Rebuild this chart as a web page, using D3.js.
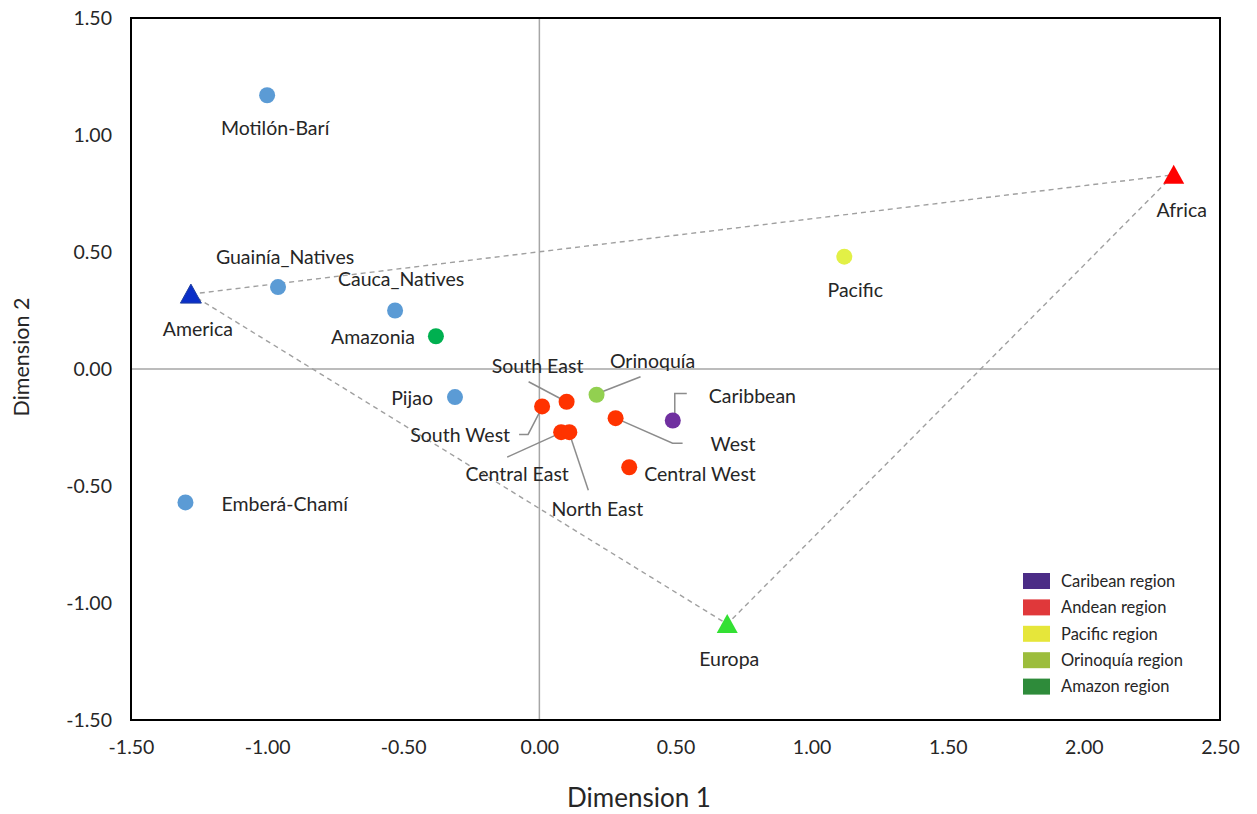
<!DOCTYPE html>
<html>
<head>
<meta charset="utf-8">
<script src="https://cdn.jsdelivr.net/npm/d3@7"></script>
<style>
  html, body { margin: 0; padding: 0; background: #ffffff; }
  svg { display: block; }
  text { font-family: Lato, "Open Sans", "Noto Sans", sans-serif; fill: #262626; }
</style>
</head>
<body>
<svg id="chart" width="1257" height="814"></svg>
<script>
// ---------------- DATA ----------------
const pointNames = ["Motilón-Barí", "Guainía_Natives", "Cauca_Natives", "Amazonia", "Pijao", "Emberá-Chamí",
  "South East", "South West", "Central East", "North East", "West", "Central West",
  "Orinoquía", "Caribbean", "Pacific"];
const dim1 = [-1.00, -0.96, -0.53, -0.38, -0.31, -1.30,
  0.10, 0.01, 0.08, 0.11, 0.28, 0.33,
  0.21, 0.49, 1.12];
const dim2 = [1.17, 0.35, 0.25, 0.14, -0.12, -0.57,
  -0.14, -0.16, -0.27, -0.27, -0.21, -0.42,
  -0.11, -0.22, 0.48];
const pointGroup = ["Native", "Native", "Native", "Amazon", "Native", "Native",
  "Andean", "Andean", "Andean", "Andean", "Andean", "Andean",
  "Orinoquia", "Caribean", "Pacific"];

const refNames = ["America", "Africa", "Europa"];
const refDim1 = [-1.28, 2.33, 0.69];
const refDim2 = [0.32, 0.83, -1.09];

const legendLabels = ["Caribean region", "Andean region", "Pacific region", "Orinoquía region", "Amazon region"];
const xTicks = [-1.5, -1.0, -0.5, 0.0, 0.5, 1.0, 1.5, 2.0, 2.5];
const yTicks = [-1.5, -1.0, -0.5, 0.0, 0.5, 1.0, 1.5];

// ---------------- STYLE / LAYOUT ----------------
const groupColor = {
  Native: "#5B9BD5", Amazon: "#00B050", Andean: "#FF3300",
  Orinoquia: "#92D050", Caribean: "#7030A0", Pacific: "#E2F046"
};
const refColor = ["#0A2FC8", "#FF0000", "#33E033"];
const legendColors = ["#4B2C86", "#E0383A", "#E6E63A", "#9CBD3C", "#2E8B3A"];

// label offsets [dx, dy, anchor] and optional leader polyline (relative to point)
const labelLayout = {
  "Motilón-Barí": [8, 33, "middle"],
  "Guainía_Natives": [7, -30, "middle"],
  "Cauca_Natives": [6, -31, "middle"],
  "Amazonia": [-21, 1, "end"],
  "Pijao": [-22, 1, "end"],
  "Emberá-Chamí": [36, 2, "start"],
  "South East": [-29, -36, "middle", [[-38, -20], [-4, -2]]],
  "South West": [-32, 29, "end", [[-23, 28], [-14, 28], [0, 1]]],
  "Central East": [-44, 42, "middle", [[-54, 25], [-1, 1]]],
  "North East": [28, 77, "middle", [[19, 58], [0, 1]]],
  "West": [95, 26, "start", [[0, 0], [57, 25], [67, 25]]],
  "Central West": [15, 7, "start"],
  "Orinoquía": [56, -34, "middle", [[44, -18], [3, -2]]],
  "Caribbean": [36, -24, "start", [[2, -3], [2, -27], [14, -27]]],
  "Pacific": [11, 33, "middle"],
  "America": [7, 35, "middle"],
  "Africa": [8, 35, "middle"],
  "Europa": [2, 35, "middle"]
};

const plot = { left: 131, right: 1220, top: 18, bottom: 720 };
const labelSize = 19.5, tickSize = 19.5;

const svg = d3.select("#chart");
const x = d3.scaleLinear().domain([-1.5, 2.5]).range([plot.left, plot.right]);
const y = d3.scaleLinear().domain([-1.5, 1.5]).range([plot.bottom, plot.top]);
const fmt = v => d3.format(".2f")(v).replace("−", "-");

// zero lines
svg.append("line").attr("x1", x(0)).attr("x2", x(0)).attr("y1", plot.top).attr("y2", plot.bottom)
  .attr("stroke", "#A6A6A6").attr("stroke-width", 1.5);
svg.append("line").attr("x1", plot.left).attr("x2", plot.right).attr("y1", y(0)).attr("y2", y(0))
  .attr("stroke", "#A6A6A6").attr("stroke-width", 1.5);

// axes (labels only)
const xAxis = d3.axisBottom(x).tickValues(xTicks).tickFormat(fmt).tickSize(0).tickPadding(20);
const gx = svg.append("g").attr("transform", `translate(0,${plot.bottom})`).call(xAxis);
gx.select(".domain").remove();
gx.selectAll("text").attr("font-size", tickSize).attr("fill", "#404040").style("font-family", "Lato, 'Open Sans', sans-serif");

const yAxis = d3.axisLeft(y).tickValues(yTicks).tickFormat(fmt).tickSize(0).tickPadding(19);
const gy = svg.append("g").attr("transform", `translate(${plot.left},0)`).call(yAxis);
gy.select(".domain").remove();
gy.selectAll("text").attr("font-size", tickSize).attr("fill", "#404040").style("font-family", "Lato, 'Open Sans', sans-serif");

// frame
svg.append("rect").attr("x", plot.left).attr("y", plot.top)
  .attr("width", plot.right - plot.left).attr("height", plot.bottom - plot.top)
  .attr("fill", "none").attr("stroke", "#000").attr("stroke-width", 2);

// dashed triangle between reference populations
const tri = [0, 1, 2, 0].map(i => [x(refDim1[i]), y(refDim2[i])]);
svg.append("path").attr("d", d3.line()(tri)).attr("fill", "none")
  .attr("stroke", "#A0A0A0").attr("stroke-width", 1.4).attr("stroke-dasharray", "5,4");

// leader lines
const leaderG = svg.append("g");
pointNames.forEach((n, i) => {
  const L = labelLayout[n];
  if (L && L[3]) {
    const px = x(dim1[i]), py = y(dim2[i]);
    leaderG.append("path").attr("d", d3.line()(L[3].map(p => [px + p[0], py + p[1]])))
      .attr("fill", "none").attr("stroke", "#8C8C8C").attr("stroke-width", 1.5);
  }
});

// points
svg.append("g").selectAll("circle").data(pointNames).join("circle")
  .attr("cx", (d, i) => x(dim1[i])).attr("cy", (d, i) => y(dim2[i])).attr("r", 8)
  .attr("fill", (d, i) => groupColor[pointGroup[i]]);

// reference triangles
const triPath = "M0,-10L10.5,9L-10.5,9Z";
svg.append("g").selectAll("path").data(refNames).join("path")
  .attr("transform", (d, i) => `translate(${x(refDim1[i])},${y(refDim2[i])})`)
  .attr("d", triPath)
  .attr("fill", (d, i) => refColor[i])
  .attr("stroke", (d, i) => i === 0 ? "#2040A0" : "none").attr("stroke-width", 1);

// labels
const lblG = svg.append("g");
function addLabel(name, px, py) {
  const L = labelLayout[name];
  lblG.append("text").attr("x", px + L[0]).attr("y", py + L[1]).attr("dy", "0.35em")
    .attr("text-anchor", L[2]).attr("font-size", labelSize).text(name);
}
pointNames.forEach((n, i) => addLabel(n, x(dim1[i]), y(dim2[i])));
refNames.forEach((n, i) => addLabel(n, x(refDim1[i]), y(refDim2[i])));

// legend
const lg = svg.append("g").attr("transform", "translate(1023,581)");
legendLabels.forEach((l, i) => {
  lg.append("rect").attr("x", 0).attr("y", i * 26.4 - 8).attr("width", 27).attr("height", 16)
    .attr("fill", legendColors[i]);
  lg.append("text").attr("x", 38).attr("y", i * 26.4).attr("dy", "0.35em")
    .attr("font-size", 16.5).text(l);
});

// axis titles
svg.append("text").attr("x", 639).attr("y", 807).attr("text-anchor", "middle")
  .attr("font-size", 26).text("Dimension 1");
svg.append("text").attr("transform", `translate(29,357) rotate(-90)`)
  .attr("text-anchor", "middle").attr("font-size", 21.5).text("Dimension 2");
</script>
</body>
</html>
